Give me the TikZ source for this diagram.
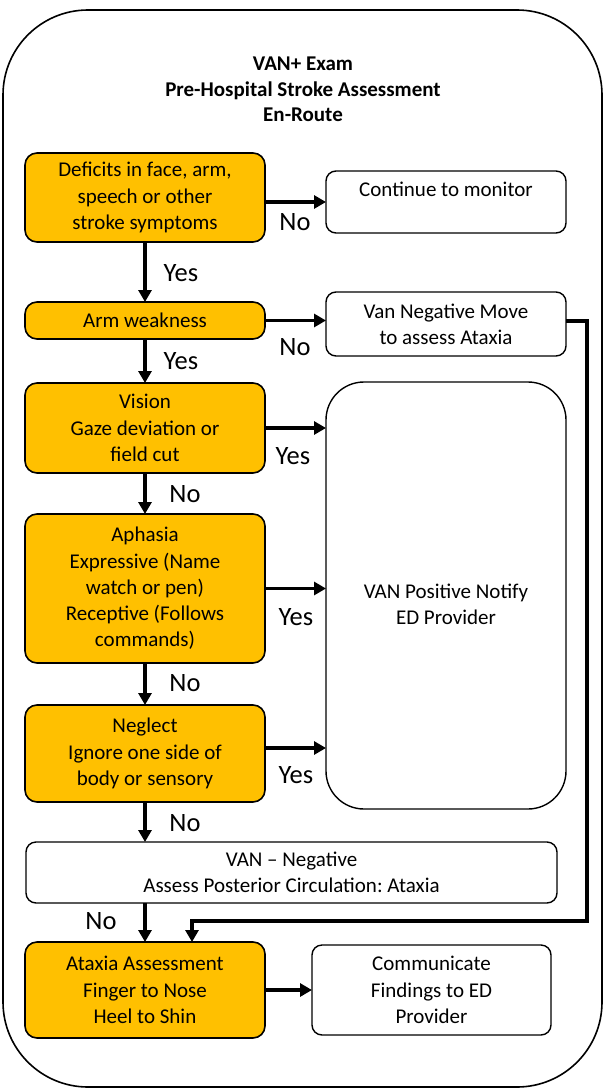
\documentclass[tikz,border=0pt]{standalone}
\usepackage{fontspec}
\setmainfont{Carlito}
\frenchspacing
\usetikzlibrary{arrows.meta,calc}
\definecolor{gold}{HTML}{FFC000}
\begin{document}
\begin{tikzpicture}[x=1pt,y=-1pt,
  every node/.style={inner sep=0pt, outer sep=0pt},
  boxtext/.style={font=\fontsize{21}{26.3}\selectfont, align=center},
  stepbox/.style={boxtext, draw, line width=1.6pt, fill=gold, rounded corners=12pt, minimum width=240pt},
  infobox/.style={boxtext, draw, line width=1.4pt, fill=white, rounded corners=10pt, minimum width=240pt},
  lbl/.style={font=\fontsize{26.5}{30}\selectfont},
  arr/.style={line width=3.4pt, -{Triangle[length=12pt,width=13pt]}}]
\useasboundingbox (0,0) rectangle (605,1089);

% outer frame and heading
\node[draw, line width=1.6pt, rounded corners=85pt, minimum width=599pt, minimum height=1077pt] (frame) at (302.5,548.5) {};
\node[font=\fontsize{21}{25.5}\selectfont\bfseries, align=center] (title) at (303,89.5)
  {VAN+ Exam\\Pre-Hospital Stroke Assessment\\En-Route};

% left column: assessment steps
\node[stepbox, minimum height=89pt]  (deficits) at (145,197.5) {Deficits in face, arm,\\speech or other\\stroke symptoms};
\node[stepbox, minimum height=37pt]  (arm)      at (145,320.5) {Arm weakness};
\node[stepbox, minimum height=90pt]  (vision)   at (145,428)   {Vision\\Gaze deviation or\\field cut};
\node[stepbox, minimum height=149pt] (aphasia)  at (145,588.5) {Aphasia\\Expressive (Name\\watch or pen)\\Receptive (Follows\\commands)};
\node[stepbox, minimum height=97pt]  (neglect)  at (145,753.5) {Neglect\\Ignore one side of\\body or sensory};
\node[stepbox, minimum height=96pt]  (ataxia)   at (145,990)   {Ataxia Assessment\\Finger to Nose\\Heel to Shin};

% right column: outcomes
\node[infobox, minimum height=62pt]  (monitor) at (446,202) {Continue to monitor\\~};
\node[infobox, minimum height=64pt]  (vanneg)  at (446,324) {Van Negative Move\\to assess Ataxia};
\node[infobox, rounded corners=38pt, minimum height=427pt] (vanpos) at (446,595.5) {};
\node[boxtext] (vanpostext) at (446,604.5) {VAN Positive Notify\\ED Provider};
\node[infobox, minimum width=531pt, minimum height=61pt] (vanneg2) at (291.5,872.5) {VAN -- Negative\\Assess Posterior Circulation: Ataxia};
\node[infobox, minimum width=239pt, minimum height=90pt] (communicate) at (431.5,990) {Communicate\\Findings to ED\\Provider};

% vertical flow
\draw[arr] (deficits.south) -- (arm.north);
\draw[arr] (arm.south) -- (vision.north);
\draw[arr] (vision.south) -- (aphasia.north);
\draw[arr] (aphasia.south) -- (neglect.north);
\draw[arr] (neglect.south) -- (neglect.south |- vanneg2.north);
\draw[arr] (neglect.south |- vanneg2.south) -- (ataxia.north);

% horizontal branches
\draw[arr] (deficits.east |- monitor.west) -- (monitor.west);
\draw[arr] (arm.east) -- (arm.east -| vanneg.west);
\draw[arr] (vision.east) -- (vision.east -| vanpos.west);
\draw[arr] (aphasia.east) -- (aphasia.east -| vanpos.west);
\draw[arr] ([yshift=5.5pt]neglect.east) -- ([yshift=5.5pt]neglect.east -| vanpos.west);
\draw[arr] (ataxia.east) -- (communicate.west);

% return path from the arm-weakness negative result
\coordinate (bend) at (587,921);
\coordinate (drop) at (192,921);
\draw[arr] ([yshift=3pt]vanneg.east) -| (bend) -- (drop) -- (drop |- ataxia.north);

% branch labels
\node[lbl] (l1)  at (295,222) {No};
\node[lbl] (l2)  at (181,273) {Yes};
\node[lbl] (l3)  at (295,347) {No};
\node[lbl] (l4)  at (181,361) {Yes};
\node[lbl] (l5)  at (293,456) {Yes};
\node[lbl] (l6)  at (185,494) {No};
\node[lbl] (l7)  at (296,617) {Yes};
\node[lbl] (l8)  at (185,683) {No};
\node[lbl] (l9)  at (296,775) {Yes};
\node[lbl] (l10) at (185,823) {No};
\node[lbl] (l11) at (101,921) {No};
\end{tikzpicture}
\end{document}
